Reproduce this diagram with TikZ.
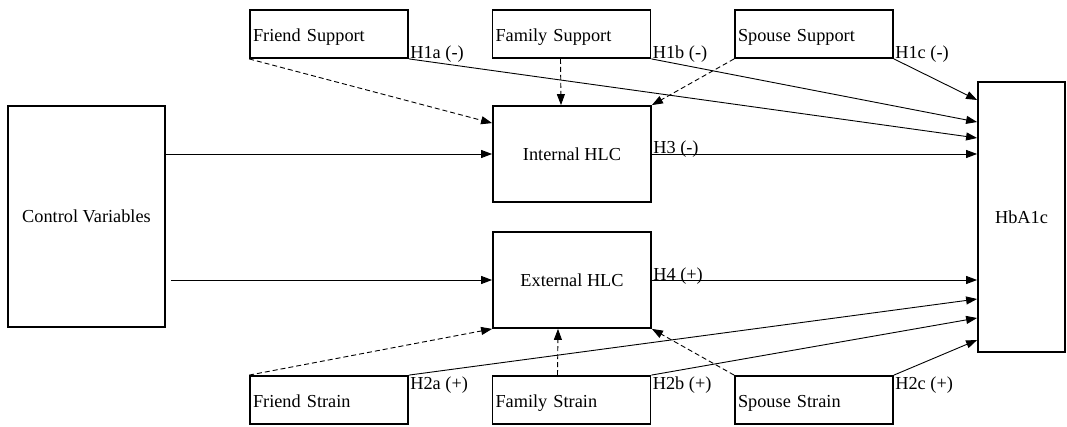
\documentclass[tikz,border=0pt]{standalone}
\usepackage{fontspec}
\setmainfont{Liberation Serif}
\usetikzlibrary{arrows.meta,positioning}

\begin{document}
\begin{tikzpicture}[x=1pt,y=-1pt,node distance=242.5pt,
		>={Triangle[length=11pt,width=8pt]},
		font=\fontsize{18.3}{22}\selectfont]
		\tikzstyle{tallbox}=[draw,line width=1.8pt,align=center]
		\tikzstyle{smallbox}=[draw,line width=1.8pt,minimum height=48pt,text width=152pt,inner xsep=3pt,
			text height=18pt,text depth=3pt,align=left]
		\tikzstyle{midbox}=[draw,line width=1.8pt,minimum width=158pt,minimum height=96pt]
		\tikzstyle{link}=[->,line width=0.9pt]
		\tikzstyle{dlink}=[link,dash pattern=on 5pt off 3pt]
		\tikzstyle{hyp}=[inner sep=1pt]
		
		\useasboundingbox (0,0) rectangle (1067,427);
		
		\node[tallbox,minimum width=157pt,minimum height=221pt] (ctrl) at (86.5,216.5) {Control Variables};
		\node[smallbox] (fsup) at (329,34) {Friend Support};
		\node[smallbox,right of=fsup]   (famsup) {Family Support};
		\node[smallbox,right of=famsup] (spsup)  {Spouse Support};
		\node[midbox] (int) at (572,154) {Internal HLC};
		\node[midbox] (ext) at (572,280) {External HLC};
		\node[smallbox] (fstr) at (329,400) {Friend Strain};
		\node[smallbox,right of=fstr]   (famstr) {Family Strain};
		\node[smallbox,right of=famstr] (spstr)  {Spouse Strain};
		\node[tallbox,minimum width=87pt,minimum height=270pt] (hba) at (1021.5,217) {HbA1c};
		
		% control variables
		\draw[link] (int.west -| ctrl.east) -- (int.west);
		\draw[link,shorten <=5pt] (ext.west -| ctrl.east) -- (ext.west);
		
		% support
		\draw[dlink] (fsup.south west) -- ([yshift=-18pt]int.north west);
		\draw[dlink] ([xshift=-11pt]famsup.south) -- ([xshift=-11pt]int.north);
		\draw[dlink] (spsup.south west) -- (int.north east);
		\draw[link] (fsup.south east) -- node[hyp,pos=0,anchor=base west] {H1a (-)} ([yshift=79pt]hba.west);
		\draw[link] (famsup.south east) -- node[hyp,pos=0,anchor=base west] {H1b (-)} ([yshift=95pt]hba.west);
		\draw[link] (spsup.south east) -- node[hyp,pos=0,anchor=base west] {H1c (-)} ([yshift=117pt]hba.west);
		
		% HLC
		\draw[link] (int.east) -- node[hyp,pos=0,anchor=base west] {H3 (-)} (int.east -| hba.west);
		\draw[link] (ext.east) -- node[hyp,pos=0,anchor=base west] {H4 (+)} (ext.east -| hba.west);
		
		% strain
		\draw[dlink] (fstr.north west) -- (ext.south west);
		\draw[dlink] ([xshift=-14pt]famstr.north) -- ([xshift=-14pt]ext.south);
		\draw[dlink] (spstr.north west) -- (ext.south east);
		\draw[link] (fstr.north east) -- node[hyp,pos=0,anchor=north west] {H2a (+)} ([yshift=-82pt]hba.west);
		\draw[link] (famstr.north east) -- node[hyp,pos=0,anchor=north west] {H2b (+)} ([yshift=-101pt]hba.west);
		\draw[link] (spstr.north east) -- node[hyp,pos=0,anchor=north west] {H2c (+)} ([yshift=-123pt]hba.west);
\end{tikzpicture}
\end{document}
